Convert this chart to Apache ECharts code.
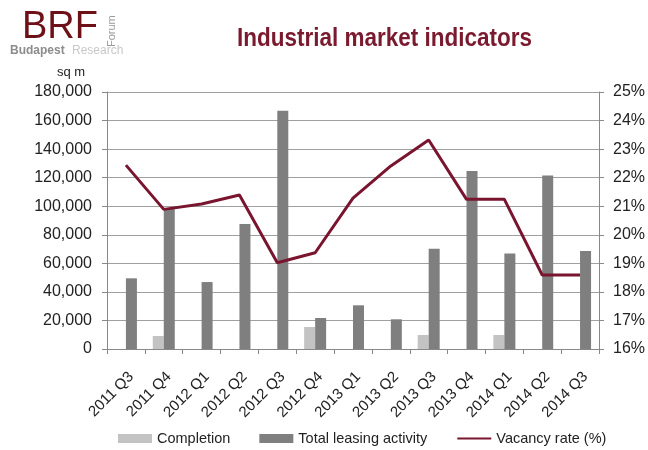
<!DOCTYPE html>
<html><head><meta charset="utf-8">
<script src="https://cdn.jsdelivr.net/npm/echarts@6/dist/echarts.min.js"></script>
<style>html,body{margin:0;padding:0;background:#fff}#c{width:648px;height:450px}</style>
</head><body><div id="c"></div>
<script>
const categories = ['2011 Q3','2011 Q4','2012 Q1','2012 Q2','2012 Q3','2012 Q4','2013 Q1','2013 Q2','2013 Q3','2013 Q4','2014 Q1','2014 Q2','2014 Q3'];
const completion = [0, 9100, 0, 0, 0, 15400, 0, 0, 9800, 0, 9800, 0, 0];
const leasing = [49500, 98500, 46900, 87500, 166900, 21700, 30600, 20800, 70300, 124700, 66800, 121600, 68600];
const vacancy = [22.44, 20.89, 21.08, 21.39, 19.02, 19.37, 21.28, 22.41, 23.32, 21.24, 21.24, 18.59, 18.59];
const leftTicks = {min: 0, max: 180000, interval: 20000};
const rightTicks = {min: 16, max: 25, interval: 1};

const chart = echarts.init(document.getElementById('c'), null, {renderer: 'canvas'});
const font = 'Liberation Sans, Arial, sans-serif';
const maroon = '#7a1530';
chart.setOption({
  animation: false,
  textStyle: {fontFamily: font},
  grid: {left: 107, right: 47, top: 92, bottom: 101},
  graphic: [
    {type: 'text', left: 22, top: 9, style: {text: 'BRF', font: '38px Liberation Sans, Arial', fill: '#6e1018'}},
    {type: 'text', left: 10, top: 45, style: {text: 'Budapest', font: 'bold 12px Liberation Sans, Arial', fill: '#8c8c8c'}},
    {type: 'text', left: 72, top: 45, style: {text: 'Research', font: '12px Liberation Sans, Arial', fill: '#c8c8c8'}},
    {type: 'text', x: 106, y: 47, rotation: Math.PI/2, style: {text: 'Forum', font: '11px Liberation Sans, Arial', fill: '#999999', verticalAlign: 'top', align: 'left'}},
    {type: 'text', left: 57, top: 66, style: {text: 'sq m', font: '13px Liberation Sans, Arial', fill: '#222'}},
    {type: 'text', x: 237, y: 27, scaleX: 0.9, style: {text: 'Industrial market indicators', font: 'bold 25px Liberation Sans, Arial', fill: '#7a1a2e', verticalAlign: 'top'}}
  ],
  legend: {
    top: 426, left: 113, itemGap: 29, itemWidth: 34, itemHeight: 9,
    textStyle: {fontSize: 14.5, color: '#222', fontFamily: font},
    data: [
      {name: 'Completion', icon: 'rect'},
      {name: 'Total leasing activity', icon: 'rect'},
      {name: 'Vacancy rate (%)', itemStyle: {opacity: 0}}
    ]
  },
  xAxis: {
    type: 'category', data: categories, boundaryGap: true,
    axisLine: {lineStyle: {color: '#888'}},
    axisTick: {show: true, length: 5, lineStyle: {color: '#888'}},
    axisLabel: {rotate: 45, fontSize: 15, color: '#222', margin: 20, interval: 0, align: 'right', verticalAlign: 'top'}
  },
  yAxis: [
    {type: 'value', min: leftTicks.min, max: leftTicks.max, interval: leftTicks.interval,
     axisLine: {show: true, lineStyle: {color: '#888'}},
     axisTick: {show: true, length: 5, lineStyle: {color: '#888'}},
     splitLine: {lineStyle: {color: '#a0a0a0', width: 1}},
     axisLabel: {fontSize: 16, color: '#222', margin: 15, formatter: v => v.toLocaleString('en-US')}},
    {type: 'value', min: rightTicks.min, max: rightTicks.max, interval: rightTicks.interval, position: 'right',
     axisLine: {show: true, lineStyle: {color: '#888'}},
     axisTick: {show: true, length: 5, lineStyle: {color: '#888'}},
     splitLine: {show: false},
     axisLabel: {fontSize: 16, color: '#222', margin: 14, formatter: '{value}%'}}
  ],
  series: [
    {name: 'Completion', type: 'bar', data: completion, barWidth: 11, barGap: '0%', itemStyle: {color: '#c3c3c3'}},
    {name: 'Total leasing activity', type: 'bar', data: leasing, barWidth: 11, barGap: '0%', itemStyle: {color: '#7f7f7f'}},
    {name: 'Vacancy rate (%)', type: 'line', yAxisIndex: 1, data: vacancy, symbol: 'none',
     lineStyle: {color: maroon, width: 3}, itemStyle: {color: maroon}}
  ]
});
</script></body></html>
